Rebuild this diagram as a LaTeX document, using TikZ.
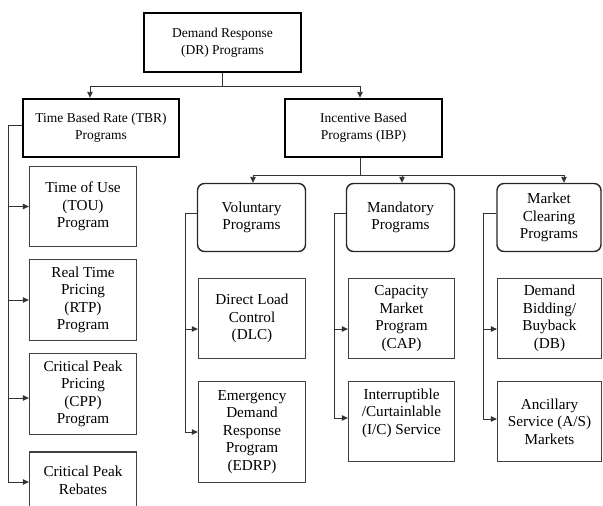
\documentclass[tikz,border=0pt]{standalone}
\usepackage{fontspec}
\setmainfont{Liberation Serif}
\usetikzlibrary{arrows.meta}
\begin{document}
\begin{tikzpicture}[x=1pt,y=-1pt,
  bigbox/.style={draw=black, line width=2.4pt, rectangle, inner sep=0pt, align=center,
    font=\fontsize{13.5}{17}\selectfont},
  roundbox/.style={draw=black!85, line width=1.4pt, rectangle, rounded corners=7pt, inner sep=0pt, align=center,
    font=\fontsize{15.2}{17.5}\selectfont},
  leafbox/.style={draw=black!75, line width=1.3pt, rectangle, inner sep=0pt, align=center,
    font=\fontsize{15.2}{17.5}\selectfont},
  conn/.style={draw=black!80, line width=0.9pt},
  arr/.style={conn, -{Triangle[length=6pt,width=5.5pt]}}
]
\useasboundingbox (0,0) rectangle (603,506);
\clip (0,0) rectangle (603,506);

% level 0/1
\node[bigbox, minimum width=157pt, minimum height=59pt] (dr) at (222.5,42.5) {Demand Response\\(DR) Programs};
\node[bigbox, minimum width=156pt, minimum height=58pt] (tbr) at (101,128) {Time Based Rate (TBR)\\Programs};
\node[bigbox, minimum width=157pt, minimum height=58pt] (ibp) at (363.5,128) {Incentive Based\\Programs (IBP)};

% level 2 (incentive)
\node[roundbox, minimum width=108pt, minimum height=68pt] (vol) at (251.5,217.5) {Voluntary\\Programs};
\node[roundbox, minimum width=108pt, minimum height=68pt] (man) at (400.5,217.5) {Mandatory\\Programs};
\node[roundbox, minimum width=104pt, minimum height=68pt] (mkt) at (549,217.5) {Market\\Clearing\\Programs};

% time based leaves
\node[leafbox, minimum width=107pt, minimum height=80pt] (tou) at (83,206.5) {Time of Use\\(TOU)\\Program};
\node[leafbox, minimum width=107pt, minimum height=81pt] (rtp) at (83,300) {Real Time\\Pricing\\(RTP)\\Program};
\node[leafbox, minimum width=107pt, minimum height=81pt] (cpp) at (83,394) {Critical Peak\\Pricing\\(CPP)\\Program};
\node[leafbox, minimum width=107pt, minimum height=81pt] (cpr) at (83,492.5) {\raisebox{6.7pt}[0pt][0pt]{\begin{tabular}{@{}c@{}}Critical Peak\\Rebates\end{tabular}}};

% incentive leaves
\node[leafbox, minimum width=107pt, minimum height=80pt] (dlc) at (252,318.5) {Direct Load\\Control\\(DLC)};
\node[leafbox, minimum width=107pt, minimum height=101pt] (edrp) at (252,432) {Emergency\\Demand\\Response\\Program\\(EDRP)};
\node[leafbox, minimum width=106pt, minimum height=80pt] (cap) at (401.5,318.5) {Capacity\\Market\\Program\\(CAP)};
\node[leafbox, minimum width=106pt, minimum height=80pt] (ic) at (401.5,421.5) {\raisebox{4.7pt}[0pt][0pt]{\begin{tabular}{@{}c@{}}Interruptible\\/Curtainlable\\(I/C) Service\end{tabular}}};
\node[leafbox, minimum width=104pt, minimum height=80pt] (db) at (549.5,318.5) {Demand\\Bidding/\\Buyback\\(DB)};
\node[leafbox, minimum width=104pt, minimum height=80pt] (as) at (549.5,421.5) {Ancillary\\Service (A/S)\\Markets};

% DR to level 1
\coordinate (j0) at (222.5,86);
\draw[conn] (dr.south) -- (j0);
\draw[arr] (j0) -| ([xshift=-11pt]tbr.north);
\draw[arr] (j0) -| ([xshift=-3.5pt]ibp.north);

% IBP to level 2
\coordinate (j1) at (360,175);
\draw[conn] ([xshift=-3.5pt]ibp.south) -- (j1);
\draw[arr] (j1) -| ([xshift=1.5pt]vol.north);
\draw[arr] (j1) -| ([xshift=1.5pt]man.north);
\draw[arr] (j1) -| ([xshift=15pt]mkt.north);

% TBR leaves
\coordinate (lx) at (8,0);
\draw[conn] ([yshift=3pt]tbr.west) -| (lx |- 0,482);
\draw[arr] (lx |- tou.west) -- (tou.west);
\draw[arr] (lx |- rtp.west) -- (rtp.west);
\draw[arr] (lx |- 0,398) -- ([yshift=-4pt]cpp.west);
\draw[arr] (lx |- 0,482) -- ([yshift=10.5pt]cpr.west);

% Voluntary leaves
\coordinate (vx) at (185,0);
\draw[conn] ([yshift=4.5pt]vol.west) -| (vx |- edrp.west);
\draw[arr] (vx |- 0,329) -- ([yshift=-10.5pt]dlc.west);
\draw[arr] (vx |- edrp.west) -- (edrp.west);

% Mandatory leaves
\coordinate (mx) at (334,0);
\draw[conn] ([yshift=4.5pt]man.west) -| (mx |- 0,418);
\draw[arr] (mx |- 0,329) -- ([yshift=-10.5pt]cap.west);
\draw[arr] (mx |- 0,418) -- ([yshift=3.5pt]ic.west);

% Market clearing leaves
\coordinate (kx) at (483,0);
\draw[conn] ([yshift=4.5pt]mkt.west) -| (kx |- 0,419);
\draw[arr] (kx |- 0,329) -- ([yshift=-10.5pt]db.west);
\draw[arr] (kx |- 0,419) -- ([yshift=2.5pt]as.west);
\end{tikzpicture}
\end{document}
